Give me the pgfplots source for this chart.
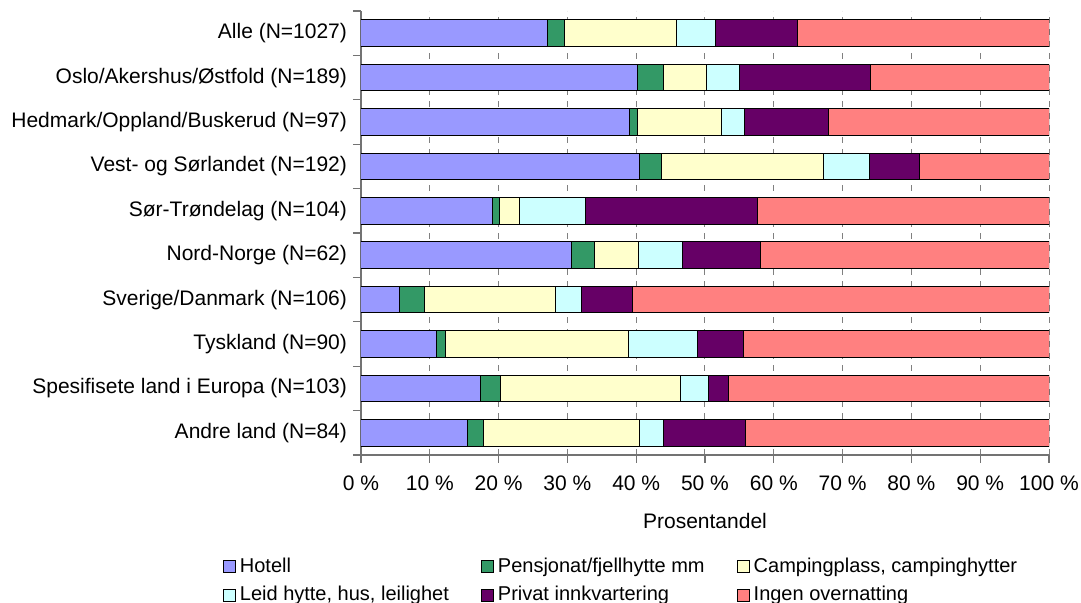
\documentclass[border=0pt]{standalone}
\usepackage{pgfplots}
\pgfplotsset{compat=1.18}
\usepackage{pgfplotstable}
\usepackage{fontspec}
\setmainfont{Liberation Sans}

\definecolor{hotell}{HTML}{9999FF}
\definecolor{pensjonat}{HTML}{339966}
\definecolor{camping}{HTML}{FFFFCC}
\definecolor{leid}{HTML}{CCFFFF}
\definecolor{privat}{HTML}{660066}
\definecolor{ingen}{HTML}{FF8080}

% shares in percent, y = row position (9 = top row)
\pgfplotstableread{
y hot  pen camp leid priv ingen
9 27.1 2.5 16.2 5.7  12.0 36.5
8 40.2 3.7 6.3  4.8  19.1 25.9
7 39.0 1.2 12.2 3.3  12.3 32.0
6 40.5 3.2 23.5 6.7  7.3  18.8
5 19.1 1.0 2.9  9.6  25.1 42.3
4 30.6 3.3 6.4  6.5  11.2 42.0
3 5.6  3.7 18.9 3.9  7.4  60.5
2 11.0 1.3 26.6 10.0 6.7  44.4
1 17.4 2.9 26.2 4.0  2.9  46.6
0 15.5 2.3 22.7 3.5  11.9 44.1
}\data

\pgfplotsset{
  sq/.style={fill=#1, draw=black, line width=0.5pt,
    legend image code/.code={\draw[##1] (0pt,-3pt) rectangle (6pt,3pt);}},
}

\begin{document}
\begin{tikzpicture}
\path[use as bounding box] (-180.5pt,-74pt) rectangle (360pt,227.5pt);
\begin{axis}[
  scale only axis, width=344pt, height=222pt,
  xbar stacked, bar width=0.6,
  xmin=0, xmax=100, ymin=-0.5, ymax=9.5,
  axis x line*=bottom, axis y line*=left,
  axis line style={black!55, -, line width=0.6pt},
  tick align=outside, major tick length=4pt,
  tick style={black!55, line width=0.6pt},
  xtick={0,10,...,100},
  xticklabels={0 \%,10 \%,20 \%,30 \%,40 \%,50 \%,60 \%,70 \%,80 \%,90 \%,100 \%},
  ytick={-0.5,0.5,...,9.5},
  yticklabels={Andre land (N=84),Spesifisete land i Europa (N=103),Tyskland (N=90),
    Sverige/Danmark (N=106),Nord-Norge (N=62),Sør-Trøndelag (N=104),
    Vest- og Sørlandet (N=192),Hedmark/Oppland/Buskerud (N=97),
    Oslo/Akershus/Østfold (N=189),Alle (N=1027),{}},
  yticklabel style={yshift=11.1pt, xshift=0.5pt},
  xticklabel style={yshift=-3pt},
  every tick label/.append style={font=\fontsize{10.5}{12}\selectfont},
  xmajorgrids, ymajorgrids=false,
  major grid style={dashed, black!50, line width=0.5pt},
  xlabel={Prosentandel},
  xlabel style={font=\fontsize{10.5}{12}\selectfont, yshift=-4.5pt},
  legend columns=3,
  legend cell align=left,
  legend style={draw=none, at={(-0.21,-0.215)}, anchor=north west,
    font=\fontsize{10}{12}\selectfont, nodes={inner sep=1.5pt}, row sep=2.5pt,
    /tikz/every odd column/.append style={column sep=0.5pt},
    /tikz/every even column/.append style={column sep=14.5pt}},
]
\addplot[sq=hotell] table[x=hot, y=y] {\data};
\addlegendentry{Hotell}
\addplot[sq=pensjonat] table[x=pen, y=y] {\data};
\addlegendentry{Pensjonat/fjellhytte mm}
\addplot[sq=camping] table[x=camp, y=y] {\data};
\addlegendentry{Campingplass, campinghytter}
\addplot[sq=leid] table[x=leid, y=y] {\data};
\addlegendentry{Leid hytte, hus, leilighet}
\addplot[sq=privat] table[x=priv, y=y] {\data};
\addlegendentry{Privat innkvartering}
\addplot[sq=ingen] table[x=ingen, y=y] {\data};
\addlegendentry{Ingen overnatting}
\end{axis}
\end{tikzpicture}
\end{document}
